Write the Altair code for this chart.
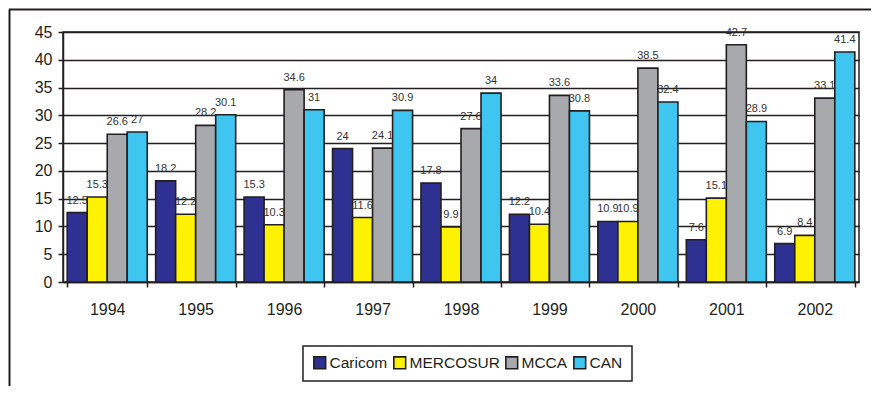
import altair as alt
import pandas as pd

years = ["1994", "1995", "1996", "1997", "1998", "1999", "2000", "2001", "2002"]
series = ["Caricom", "MERCOSUR", "MCCA", "CAN"]
caricom = [12.5, 18.2, 15.3, 24, 17.8, 12.2, 10.9, 7.6, 6.9]
mercosur = [15.3, 12.2, 10.3, 11.6, 9.9, 10.4, 10.9, 15.1, 8.4]
mcca = [26.6, 28.2, 34.6, 24.1, 27.6, 33.6, 38.5, 42.7, 33.1]
can = [27, 30.1, 31, 30.9, 34, 30.8, 32.4, 28.9, 41.4]
colors = ["#2E3192", "#FFF200", "#A7A9AC", "#3EC6F0"]
y_ticks = [0, 5, 10, 15, 20, 25, 30, 35, 40, 45]

rows = []
for name, vals in zip(series, [caricom, mercosur, mcca, can]):
    for yr, v in zip(years, vals):
        rows.append({"year": yr, "series": name, "value": v})
df = pd.DataFrame(rows)

FONT = '"Liberation Sans", Arial, sans-serif'

x_enc = alt.X(
    "year:N",
    sort=years,
    title=None,
    scale=alt.Scale(paddingInner=0.095, paddingOuter=0.0475),
    axis=alt.Axis(
        tickBand="extent",
        labelAngle=0,
        labelFontSize=16,
        labelPadding=14,
        tickSize=5,
        tickColor="#231f20",
        tickWidth=1.5,
        domainColor="#231f20",
        domainWidth=1.5,
        labelColor="#231f20",
        labelFont=FONT,
    ),
)
xoff = alt.XOffset("series:N", sort=series, scale=alt.Scale(paddingInner=0.0))
y_enc = alt.Y(
    "value:Q",
    title=None,
    scale=alt.Scale(domain=[0, 45], nice=False),
    axis=alt.Axis(
        values=y_ticks,
        tickCount=10,
        labelOverlap=False,
        labelFlush=False,
        labelFontSize=16,
        labelPadding=6,
        tickSize=5,
        tickColor="#231f20",
        tickWidth=1.5,
        domainColor="#231f20",
        domainWidth=1.5,
        gridColor="#231f20",
        gridWidth=1.3,
        gridOpacity=1,
        labelColor="#231f20",
        labelFont=FONT,
    ),
)

bars = alt.Chart(df).mark_bar(stroke="#231f20", strokeWidth=1.6).encode(
    x=x_enc,
    xOffset=xoff,
    y=y_enc,
    color=alt.Color(
        "series:N",
        sort=series,
        scale=alt.Scale(domain=series, range=colors),
        legend=alt.Legend(
            title=None,
            orient="none",
            legendX=240,
            legendY=314,
            direction="horizontal",
            symbolType="square",
            symbolSize=140,
            symbolStrokeColor="#231f20",
            symbolStrokeWidth=1.6,
            labelFontSize=15.5,
            labelFont=FONT,
            labelColor="#231f20",
            labelOffset=2,
            columnPadding=2,
            padding=9,
            strokeColor="#231f20",
        ),
    ),
)

labels = alt.Chart(df).mark_text(
    baseline="bottom", dy=-7, fontSize=11, font=FONT, color="#333333"
).encode(
    x=x_enc,
    xOffset=xoff,
    y=y_enc,
    text=alt.Text("value:Q", format=".1~f"),
)

frame_df = pd.DataFrame({"k": [0]})
frame_left = alt.Chart(frame_df).mark_rule(color="#231f20", strokeWidth=2).encode(
    x=alt.value(-53.5), y=alt.value(-22.5), y2=alt.value(354)
)
frame_top = alt.Chart(frame_df).mark_rule(color="#231f20", strokeWidth=2).encode(
    x=alt.value(-54), x2=alt.value(808), y=alt.value(-22.5)
)

chart = (
    alt.layer(bars, labels, frame_left, frame_top)
    .properties(width=796, height=250, padding=0)
    .configure_view(stroke="#231f20", strokeWidth=1.5)
    .configure_legend(strokeWidth=1.5)
)

chart.save("out.html", embed_options={"renderer": "svg", "actions": False})
